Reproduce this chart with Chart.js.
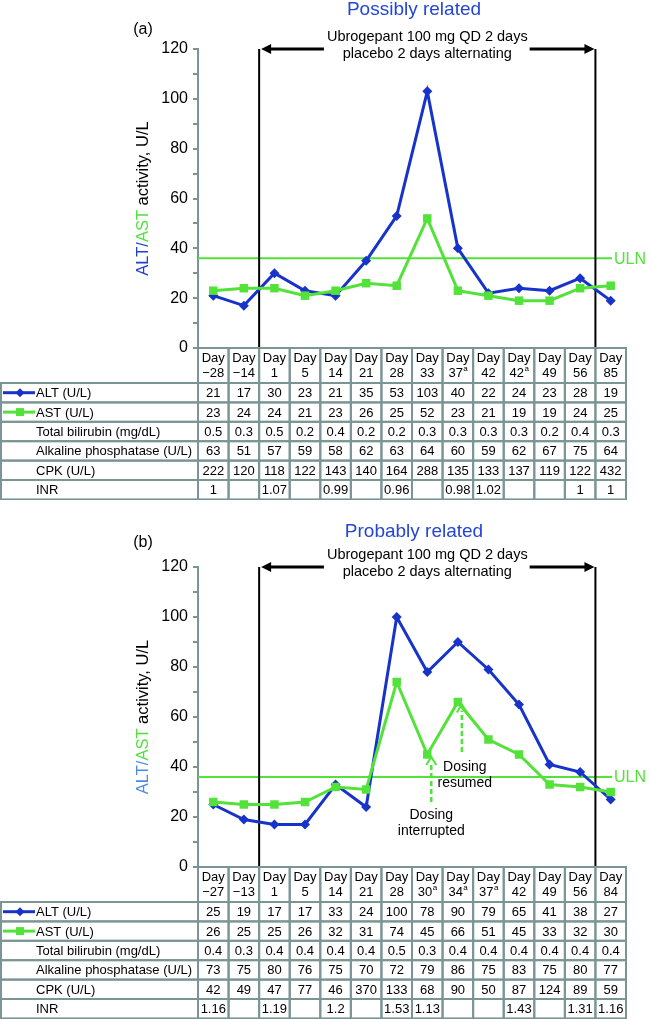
<!DOCTYPE html>
<html>
<head>
<meta charset="utf-8">
<script src="https://cdn.jsdelivr.net/npm/chart.js@4.4.0/dist/chart.umd.min.js"></script>
<style>
  html, body { margin: 0; padding: 0; background: #fff; }
  canvas { display: block; }
</style>
</head>
<body>
<canvas id="chartA" width="650" height="500"></canvas>
<canvas id="chartB" width="650" height="519"></canvas>
<script>
const FONT = '"Liberation Sans", Arial, Helvetica, sans-serif'
const BLUE = '#1733c9'
const GREEN = '#52e23a'
const RULE = '#7b9595'
const ULN = 36

const rowNames = ['ALT (U/L)', 'AST (U/L)', 'Total bilirubin (mg/dL)', 'Alkaline phosphatase (U/L)', 'CPK (U/L)', 'INR']

// (a) possibly related
const daysA = ['−28', '−14', '1', '5', '14', '21', '28', '33', '37a', '42', '42a', '49', '56', '85']
const altA = [21, 17, 30, 23, 21, 35, 53, 103, 40, 22, 24, 23, 28, 19]
const astA = [23, 24, 24, 21, 23, 26, 25, 52, 23, 21, 19, 19, 24, 25]
const biliA = [0.5, 0.3, 0.5, 0.2, 0.4, 0.2, 0.2, 0.3, 0.3, 0.3, 0.3, 0.2, 0.4, 0.3]
const alpA = [63, 51, 57, 59, 58, 62, 63, 64, 60, 59, 62, 67, 75, 64]
const cpkA = [222, 120, 118, 122, 143, 140, 164, 288, 135, 133, 137, 119, 122, 432]
const inrA = [1, null, 1.07, null, 0.99, null, 0.96, null, 0.98, 1.02, null, null, 1, 1]

// (b) probably related
const daysB = ['−27', '−13', '1', '5', '14', '21', '28', '30a', '34a', '37a', '42', '49', '56', '84']
const altB = [25, 19, 17, 17, 33, 24, 100, 78, 90, 79, 65, 41, 38, 27]
const astB = [26, 25, 25, 26, 32, 31, 74, 45, 66, 51, 45, 33, 32, 30]
const biliB = [0.4, 0.3, 0.4, 0.4, 0.4, 0.4, 0.5, 0.3, 0.4, 0.4, 0.4, 0.4, 0.4, 0.4]
const alpB = [73, 75, 80, 76, 75, 70, 72, 79, 86, 75, 83, 75, 80, 77]
const cpkB = [42, 49, 47, 77, 46, 370, 133, 68, 90, 50, 87, 124, 89, 59]
const inrB = [1.16, null, 1.19, null, 1.2, null, 1.53, 1.13, null, null, 1.43, null, 1.31, 1.16]

// treatment window: boundaries before these column indexes
const treatStart = 2
const treatEnd = 13

function arrowHead(ctx, x, y, dir, len = 10, half = 5) {
  ctx.beginPath()
  ctx.moveTo(x, y)
  ctx.lineTo(x - dir * len, y - half)
  ctx.lineTo(x - dir * len, y + half)
  ctx.closePath()
  ctx.fill()
}

function drawHeader(ctx, label, cx, y) {
  ctx.font = '13px ' + FONT
  ctx.textAlign = 'center'
  ctx.fillText('Day', cx, y)
  const sup = label.endsWith('a')
  const main = sup ? label.slice(0, -1) : label
  if (!sup) {
    ctx.fillText(main, cx, y + 15)
    return
  }
  const w1 = ctx.measureText(main).width
  ctx.font = '8px ' + FONT
  const w2 = ctx.measureText('a').width
  const x0 = cx - (w1 + w2) / 2
  ctx.textAlign = 'left'
  ctx.font = '13px ' + FONT
  ctx.fillText(main, x0, y + 15)
  ctx.font = '8px ' + FONT
  ctx.fillText('a', x0 + w1 + 0.5, y + 11)
}

function labPlugin(t) {
  return {
    id: 'lab' + t.tag,
    beforeDatasetsDraw(chart) {
      const { ctx, chartArea: a, scales: { x, y } } = chart
      ctx.save()
      // ULN reference line
      const yu = y.getPixelForValue(ULN)
      ctx.strokeStyle = GREEN
      ctx.lineWidth = 2
      ctx.beginPath()
      ctx.moveTo(a.left, yu)
      ctx.lineTo(a.right - 14, yu)
      ctx.stroke()
      ctx.fillStyle = GREEN
      ctx.font = '16px ' + FONT
      ctx.textAlign = 'left'
      ctx.textBaseline = 'middle'
      ctx.fillText('ULN', a.right - 12, yu + 1)

      // treatment window
      const x1 = (x.getPixelForValue(treatStart - 1) + x.getPixelForValue(treatStart)) / 2
      const x2 = (x.getPixelForValue(treatEnd - 1) + x.getPixelForValue(treatEnd)) / 2
      const yt = y.getPixelForValue(120)
      ctx.strokeStyle = '#000'
      ctx.lineWidth = 2
      ctx.beginPath()
      ctx.moveTo(x1, yt); ctx.lineTo(x1, a.bottom)
      ctx.moveTo(x2, yt); ctx.lineTo(x2, a.bottom)
      ctx.stroke()

      const mid = (x1 + x2) / 2
      ctx.fillStyle = '#000'
      ctx.font = '14.5px ' + FONT
      ctx.textAlign = 'center'
      ctx.fillText('Ubrogepant 100 mg QD 2 days', mid, yt - 12)
      ctx.fillText('placebo 2 days alternating', mid, yt + 5)
      const tw = ctx.measureText('Ubrogepant 100 mg QD 2 days').width
      ctx.lineWidth = 3
      ctx.beginPath()
      ctx.moveTo(x1 + 10, yt); ctx.lineTo(mid - tw / 2 - 3, yt)
      ctx.moveTo(mid + tw / 2 + 2, yt); ctx.lineTo(x2 - 10, yt)
      ctx.stroke()
      arrowHead(ctx, x1 + 2, yt, -1)
      arrowHead(ctx, x2 - 1, yt, 1)
      ctx.restore()
    },
    afterDraw(chart) {
      const { ctx, chartArea: a, scales: { x, y } } = chart
      const n = t.days.length
      const colW = (a.right - a.left) / n
      const headH = 35
      const rowH = 19.4
      const top = a.bottom
      ctx.save()
      ctx.textBaseline = 'middle'

      // header cells
      ctx.strokeStyle = RULE
      ctx.lineWidth = 2
      ctx.fillStyle = '#000'
      t.days.forEach((d, i) => {
        const cx = x.getPixelForValue(i)
        ctx.strokeRect(cx - colW / 2, top, colW, headH)
        drawHeader(ctx, d, cx, top + 10)
      })

      // data rows
      t.rows.forEach((vals, r) => {
        const ry = top + headH + r * rowH
        ctx.strokeStyle = RULE
        ctx.strokeRect(1, ry, a.left - 1, rowH)
        ctx.font = '13px ' + FONT
        ctx.textAlign = 'left'
        ctx.fillStyle = '#000'
        ctx.fillText(rowNames[r], 36, ry + rowH / 2 + 1)
        ctx.textAlign = 'center'
        vals.forEach((v, i) => {
          const cx = x.getPixelForValue(i)
          ctx.strokeRect(cx - colW / 2, ry, colW, rowH)
          if (v !== null) ctx.fillText(String(v), cx, ry + rowH / 2 + 1)
        })
      })

      // legend keys in table
      const ky1 = top + headH + rowH / 2
      const ky2 = ky1 + rowH
      ctx.lineWidth = 3
      ctx.strokeStyle = BLUE
      ctx.beginPath(); ctx.moveTo(3, ky1); ctx.lineTo(35, ky1); ctx.stroke()
      ctx.fillStyle = BLUE
      ctx.beginPath()
      ctx.moveTo(20, ky1 - 4.5); ctx.lineTo(24.5, ky1); ctx.lineTo(20, ky1 + 4.5); ctx.lineTo(15.5, ky1)
      ctx.closePath(); ctx.fill()
      ctx.strokeStyle = GREEN
      ctx.beginPath(); ctx.moveTo(3, ky2); ctx.lineTo(35, ky2); ctx.stroke()
      ctx.fillStyle = GREEN
      ctx.fillRect(16, ky2 - 4, 8, 8)

      // panel title and label
      ctx.textAlign = 'center'
      ctx.fillStyle = '#2346d6'
      ctx.font = '19px ' + FONT
      ctx.fillText(t.title, (a.left + a.right) / 2 + 2, a.top - t.titleGap)
      ctx.fillStyle = '#000'
      ctx.font = '16px ' + FONT
      ctx.fillText(t.panel, 143, a.top - t.panelGap)

      // y axis title, multi-coloured
      const parts = [['ALT/', t.altColor], ['AST', GREEN], [' activity, U/L', '#000']]
      ctx.font = '16.5px ' + FONT
      const total = parts.reduce((s, p) => s + ctx.measureText(p[0]).width, 0)
      ctx.translate(143, (a.top + a.bottom) / 2)
      ctx.rotate(-Math.PI / 2)
      ctx.textAlign = 'left'
      let px = -total / 2
      parts.forEach(([s, c]) => {
        ctx.fillStyle = c
        ctx.fillText(s, px, 0)
        px += ctx.measureText(s).width
      })
      ctx.setTransform(1, 0, 0, 1, 0, 0)

      // dosing annotations
      ;(t.notes || []).forEach(nt => {
        const ax = x.getPixelForValue(nt.idx) + 4
        const yTip = y.getPixelForValue(nt.tip)
        const yTail = y.getPixelForValue(nt.tail)
        ctx.strokeStyle = GREEN
        ctx.fillStyle = GREEN
        ctx.lineWidth = 2.5
        ctx.setLineDash([5, 3])
        ctx.beginPath(); ctx.moveTo(ax, yTail); ctx.lineTo(ax, yTip + 6); ctx.stroke()
        ctx.setLineDash([])
        ctx.lineWidth = 2
        ctx.beginPath()
        ctx.moveTo(ax - 5, yTip + 8); ctx.lineTo(ax, yTip); ctx.lineTo(ax + 5, yTip + 8)
        ctx.stroke()
        ctx.fillStyle = '#000'
        ctx.font = '14px ' + FONT
        ctx.textAlign = 'center'
        nt.text.forEach((s, k) => ctx.fillText(s, ax + nt.dx, yTail + nt.dy + k * 16))
      })
      ctx.restore()
    }
  }
}

function makeChart(id, t) {
  const canvas = document.getElementById(id)
  const h = canvas.height
  return new Chart(canvas.getContext('2d'), {
    type: 'line',
    data: {
      labels: t.days,
      datasets: [
        {
          label: 'AST (U/L)', data: t.ast, borderColor: GREEN, backgroundColor: GREEN,
          borderWidth: 3, pointStyle: 'rect', pointRadius: 6, pointBorderWidth: 0, tension: 0
        },
        {
          label: 'ALT (U/L)', data: t.alt, borderColor: BLUE, backgroundColor: BLUE,
          borderWidth: 3, pointStyle: 'rectRot', pointRadius: 5, pointBorderWidth: 0, tension: 0
        },
      ],
    },
    options: {
      responsive: false,
      animation: false,
      layout: { padding: { left: 0, right: 24, top: t.top, bottom: h - t.bottom } },
      plugins: { legend: { display: false }, tooltip: { enabled: false } },
      scales: {
        x: { type: 'category', offset: true, display: false },
        y: {
          min: 0, max: 120,
          afterFit(scale) { scale.width = 198 },
          border: { display: true, color: RULE, width: 2 },
          grid: { display: true, drawOnChartArea: false, drawTicks: true, tickLength: 5, color: RULE, lineWidth: 2 },
          ticks: {
            stepSize: 10, padding: 5, color: '#000',
            font: { family: FONT, size: 16 },
            callback: v => (v % 20 === 0 ? v : ''),
          },
        },
      },
    },
    plugins: [labPlugin(t)],
  })
}

makeChart('chartA', {
  tag: 'A', days: daysA, alt: altA, ast: astA,
  rows: [altA, astA, biliA, alpA, cpkA, inrA],
  title: 'Possibly related', panel: '(a)', altColor: '#1f3fd0',
  top: 49, bottom: 348, titleGap: 39, panelGap: 19,
})

makeChart('chartB', {
  tag: 'B', days: daysB, alt: altB, ast: astB,
  rows: [altB, astB, biliB, alpB, cpkB, inrB],
  title: 'Probably related', panel: '(b)', altColor: '#4a8de4',
  top: 67, bottom: 367, titleGap: 35, panelGap: 24,
  notes: [
    { idx: 7, tip: 44, tail: 26, text: ['Dosing', 'interrupted'], dx: 0, dy: 13 },
    { idx: 8, tip: 65, tail: 46, text: ['Dosing', 'resumed'], dx: 3, dy: 15 },
  ],
})
</script>
</body>
</html>
